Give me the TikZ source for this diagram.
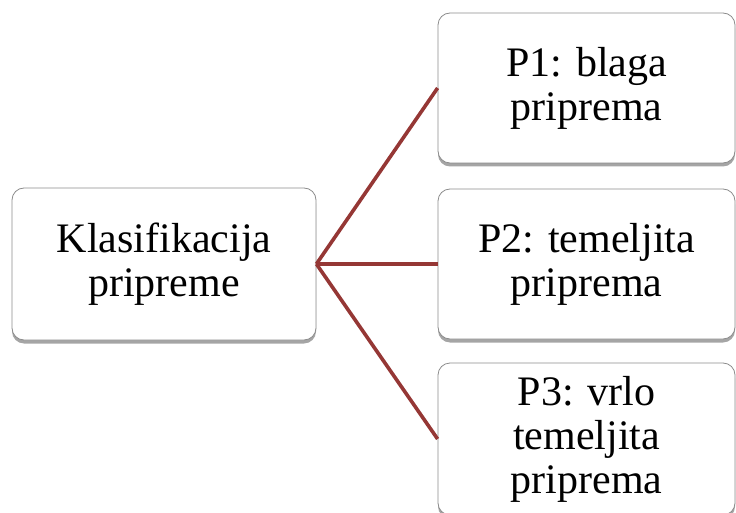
\documentclass[tikz,border=0pt]{standalone}
\usepackage{fontspec}
\setmainfont{Liberation Serif}[Ligatures=NoCommon]
\usetikzlibrary{shadows}
\definecolor{lnk}{RGB}{149,55,53}
\begin{document}
\begin{tikzpicture}[x=1pt,y=-1pt,
  box/.style={draw=black!45, line width=0.8pt, rounded corners=12pt, fill=white,
    drop shadow={shadow xshift=0pt, shadow yshift=-3.5pt, opacity=0.5, fill=black!70},
    align=center, font=\fontsize{42}{44}\selectfont, inner sep=0pt},
  link/.style={draw=lnk, line width=3.6pt}]
\useasboundingbox (0,0) rectangle (736,513);
\clip (0,0) rectangle (736,513);
\node[box, minimum width=304pt, minimum height=152pt] (L) at (164,264) {Klasifikacija\\pripreme};
\node[box, minimum width=297pt, minimum height=150pt] (P1) at (586.5,88) {P1: blaga\\priprema};
\node[box, minimum width=297pt, minimum height=150pt] (P2) at (586.5,264) {P2: temeljita\\priprema};
\node[box, minimum width=297pt, minimum height=152pt] (P3) at (586.5,439) {P3: vrlo\\temeljita\\priprema};
\draw[link] (L.east) -- (P1.west);
\draw[link] (L.east) -- (P2.west);
\draw[link] (L.east) -- (P3.west);
\end{tikzpicture}
\end{document}
